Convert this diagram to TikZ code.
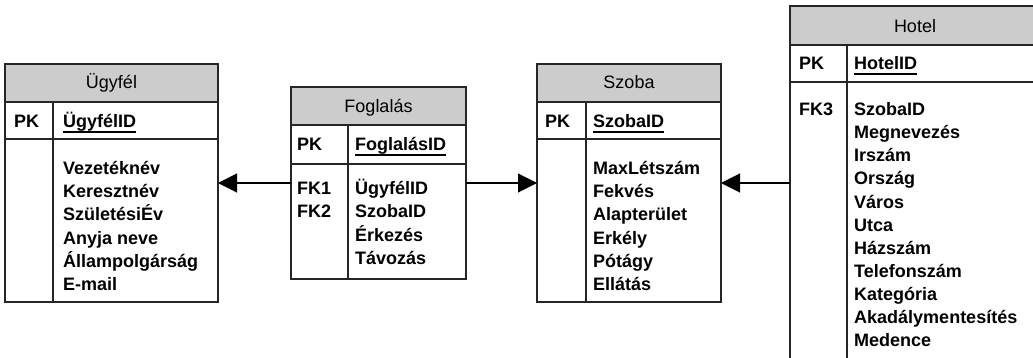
\documentclass[tikz,border=0pt]{standalone}
\usepackage{fontspec}
\setmainfont{Liberation Sans}
\usetikzlibrary{arrows.meta}

\definecolor{hdrgray}{HTML}{CCCCCC}
\tikzset{
  entity/.style={draw=black!85, line width=1.1pt, inner sep=0pt, outer sep=0pt, anchor=north west,
    path picture={\fill[hdrgray] (path picture bounding box.north west) rectangle ([yshift=-38pt]path picture bounding box.north east);}},
  sep/.style={draw=black!85, line width=1.1pt},
  title/.style={anchor=base, inner sep=0pt, font=\fontsize{18}{21}\selectfont},
  field/.style={anchor=base west, inner sep=0pt, font=\fontsize{18}{21}\selectfont\bfseries},
  uline/.style={line width=1.1pt},
  fk/.style={line width=1.1pt, -{Triangle[length=19pt,width=19pt]}}
}

\begin{document}
\begin{tikzpicture}[x=1pt,y=-1pt]
		\useasboundingbox (0,0) rectangle (1033,358);
		\clip (0,0) rectangle (1033,358);
		% boxes
		\node[entity, minimum width=213pt, minimum height=238pt] (ugyfel) at (5,64) {};
		\node[entity, minimum width=175pt, minimum height=192pt] (fogl) at (291,87) {};
		\node[entity, minimum width=184pt, minimum height=238pt] (szoba) at (537,64) {};
		\node[entity, minimum width=250pt, minimum height=354pt] (hotel) at (790,6) {};
		% inner lines
		\draw[sep] ([yshift=-38pt]ugyfel.north west) -- ([yshift=-38pt]ugyfel.north east)
			([yshift=-75pt]ugyfel.north west) -- ([yshift=-75pt]ugyfel.north east)
			([xshift=48pt,yshift=-38pt]ugyfel.north west) -- ([xshift=48pt]ugyfel.south west);
		\draw[sep] ([yshift=-38pt]fogl.north west) -- ([yshift=-38pt]fogl.north east)
			([yshift=-77pt]fogl.north west) -- ([yshift=-77pt]fogl.north east)
			([xshift=57pt,yshift=-38pt]fogl.north west) -- ([xshift=57pt]fogl.south west);
		\draw[sep] ([yshift=-38pt]szoba.north west) -- ([yshift=-38pt]szoba.north east)
			([yshift=-75pt]szoba.north west) -- ([yshift=-75pt]szoba.north east)
			([xshift=49pt,yshift=-38pt]szoba.north west) -- ([xshift=49pt]szoba.south west);
		\draw[sep] ([yshift=-39pt]hotel.north west) -- ([yshift=-39pt]hotel.north east)
			([yshift=-76pt]hotel.north west) -- ([yshift=-76pt]hotel.north east)
			([xshift=57pt,yshift=-39pt]hotel.north west) -- ([xshift=57pt]hotel.south west);
		% Ügyfél
		\node[title] (ugyfel-t) at (111.5,89) {Ügyfél};
		\node[field] (ugyfel-pk) at (14,128) {PK};
		\node[field] (ugyfel-id) at (63,128) {ÜgyfélID};
		\draw[uline] ([yshift=-4pt]ugyfel-id.base west) -- ([yshift=-4pt]ugyfel-id.base east);
		\foreach \t [count=\i] in {Vezetéknév,Keresztnév,SzületésiÉv,Anyja neve,Állampolgárság,E-mail}
			\node[field] (ugyfel-\i) at (63,152+23*\i) {\t};
		% Foglalás
		\node[title] (fogl-t) at (378.5,113) {Foglalás};
		\node[field] (fogl-pk) at (297,151) {PK};
		\node[field] (fogl-id) at (355,151) {FoglalásID};
		\draw[uline] ([yshift=-4pt]fogl-id.base west) -- ([yshift=-4pt]fogl-id.base east);
		\node[field] (fogl-fk1) at (297,195) {FK1};
		\node[field] (fogl-fk2) at (297,218) {FK2};
		\foreach \t [count=\i] in {ÜgyfélID,SzobaID,Érkezés,Távozás}
			\node[field] (fogl-\i) at (355,172+23*\i) {\t};
		% Szoba
		\node[title] (szoba-t) at (629,89) {Szoba};
		\node[field] (szoba-pk) at (545,128) {PK};
		\node[field] (szoba-id) at (593,128) {SzobaID};
		\draw[uline] ([yshift=-4pt]szoba-id.base west) -- ([yshift=-4pt]szoba-id.base east);
		\foreach \t [count=\i] in {MaxLétszám,Fekvés,Alapterület,Erkély,Pótágy,Ellátás}
			\node[field] (szoba-\i) at (593,152+23*\i) {\t};
		% Hotel
		\node[title] (hotel-t) at (915,33) {Hotel};
		\node[field] (hotel-pk) at (799,70) {PK};
		\node[field] (hotel-id) at (854,70) {HotelID};
		\draw[uline] ([yshift=-4pt]hotel-id.base west) -- ([yshift=-4pt]hotel-id.base east);
		\node[field] (hotel-fk3) at (799,116) {FK3};
		\foreach \t [count=\i] in {SzobaID,Megnevezés,Irszám,Ország,Város,Utca,Házszám,Telefonszám,Kategória,Akadálymentesítés,Medence}
			\node[field] (hotel-\i) at (854,93+23*\i) {\t};
		% relationships
		\draw[fk] (fogl.west) -- (ugyfel.east);
		\draw[fk] (fogl.east) -- (szoba.west);
		\draw[fk] (hotel.west) -- (szoba.east);
	\end{tikzpicture}
\end{document}
